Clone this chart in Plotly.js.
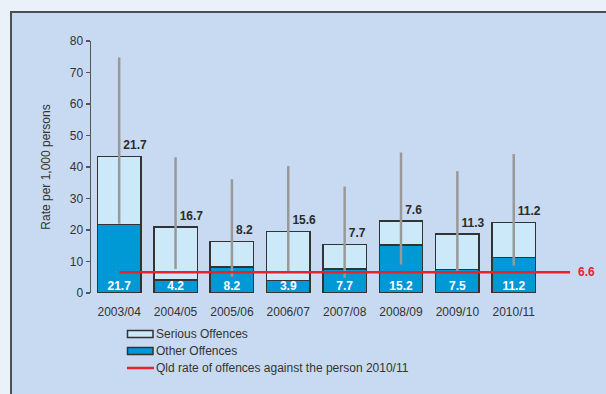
<!DOCTYPE html>
<html>
<head>
<meta charset="utf-8">
<script src="https://cdn.plot.ly/plotly-3.0.1.min.js"></script>
<style>
  html, body { margin: 0; padding: 0; background: #ebf1f9; }
  #box { position: absolute; left: 10px; top: 11px; width: 620px; height: 400px;
         border: 2px solid #4a4f57; background: #c8daf1; }
  #chart { position: absolute; left: 0; top: 0; width: 606px; height: 394px; }
</style>
</head>
<body>
<div id="box"></div>
<div id="chart"></div>
<script>
// ---- data ----
const years   = ['2003/04','2004/05','2005/06','2006/07','2007/08','2008/09','2009/10','2010/11'];
const other   = [21.7, 4.2, 8.2, 3.9, 7.7, 15.2, 7.5, 11.2];   // Other Offences
const serious = [21.7, 16.7, 8.2, 15.6, 7.7, 7.6, 11.3, 11.2]; // Serious Offences
const rangeLow  = [22.0, 7.6, 5.1, 6.8, 4.8, 9.0, 6.8, 8.7];
const rangeHigh = [74.8, 43.1, 36.1, 40.3, 33.8, 44.6, 38.7, 44.1];
const qldRate = 6.6;
const qldLabel = 'Qld rate of offences against the person 2010/11';

const idx = years.map((_, i) => i);
const totals = other.map((v, i) => +(v + serious[i]).toFixed(1));

const FONT = 'Liberation Sans, Arial, sans-serif';

// gray range lines
const rx = [], ry = [];
idx.forEach(i => { rx.push(i, i, null); ry.push(rangeLow[i], rangeHigh[i], null); });

const traces = [
  { type: 'bar', name: 'Other Offences', x: idx, y: other, width: 0.77,
    marker: { color: '#0099d5', line: { color: '#333333', width: 1.5 } },
    hoverinfo: 'skip', showlegend: false },
  { type: 'bar', name: 'Serious Offences', x: idx, y: serious, width: 0.77,
    marker: { color: '#cce9f9', line: { color: '#333333', width: 1.5 } },
    hoverinfo: 'skip', showlegend: false },
  { type: 'scatter', mode: 'lines', x: rx, y: ry, line: { color: '#999999', width: 2.5 },
    showlegend: false, hoverinfo: 'skip' },
  { type: 'scatter', mode: 'lines', name: qldLabel, x: [0, years.length], y: [qldRate, qldRate],
    line: { color: '#e8212b', width: 2.5 }, showlegend: false, hoverinfo: 'skip' },
  { type: 'scatter', mode: 'markers+text', x: idx, y: totals, text: serious.map(v => v.toFixed(1)),
    marker: { size: 5, opacity: 0 },
    textposition: 'top right', textfont: { family: FONT, size: 12, color: '#2b2b2b', weight: 'bold' },
    showlegend: false, hoverinfo: 'skip', cliponaxis: false },
  { type: 'scatter', mode: 'text', x: idx, y: idx.map(() => 0), text: other.map(v => v.toFixed(1)),
    textposition: 'top center', textfont: { family: FONT, size: 12, color: '#ffffff', weight: 'bold' },
    showlegend: false, hoverinfo: 'skip', cliponaxis: false }
];

// custom legend (shapes + annotations in paper coords)
const W = 496, H = 252, L = 91, T = 41;
const px = x => (x - L) / W;
const py = y => (T + H - y) / H;
const legendItems = [
  { label: 'Serious Offences', fill: '#cce9f9', kind: 'box' },
  { label: 'Other Offences', fill: '#0099d5', kind: 'box' },
  { label: qldLabel, fill: '#e8212b', kind: 'line' }
];
const shapes = [], annotations = [];
legendItems.forEach((it, k) => {
  const yc = 334 + k * 17;
  if (it.kind === 'box') {
    shapes.push({ type: 'rect', xref: 'paper', yref: 'paper',
      x0: px(127.5), x1: px(153), y0: py(yc - 3.5), y1: py(yc + 3.5),
      fillcolor: it.fill, line: { color: '#333333', width: 1.5 } });
  } else {
    shapes.push({ type: 'line', xref: 'paper', yref: 'paper',
      x0: px(127), x1: px(154), y0: py(yc), y1: py(yc),
      line: { color: it.fill, width: 2.5 } });
  }
  annotations.push({ xref: 'paper', yref: 'paper', x: px(154), y: py(yc), xanchor: 'left', yanchor: 'middle',
    text: it.label, showarrow: false, font: { family: FONT, size: 12, color: '#333333' } });
});
annotations.push({ x: years.length, y: qldRate, xref: 'x', yref: 'y', xanchor: 'left', yanchor: 'middle',
  xshift: 6, text: '<b>' + qldRate.toFixed(1) + '</b>', showarrow: false,
  font: { family: FONT, size: 12, color: '#e8212b' } });

const layout = {
  width: 606, height: 394,
  margin: { l: L, r: 606 - L - W, t: T, b: 394 - T - H },
  paper_bgcolor: 'rgba(0,0,0,0)', plot_bgcolor: 'rgba(0,0,0,0)',
  barmode: 'stack', showlegend: false,
  font: { family: FONT, size: 12, color: '#333333' },
  xaxis: { range: [-0.5, 8.3], tickmode: 'array', tickvals: idx, ticktext: years,
    showline: false, showgrid: false, zeroline: false, ticks: '', ticklabelstandoff: 10,
    tickfont: { family: FONT, size: 12, color: '#333333' } },
  yaxis: { range: [0, 80], dtick: 10, showline: true, linecolor: '#555555', linewidth: 1.5,
    ticks: 'outside', ticklen: 4, tickcolor: '#555555', tickwidth: 1.5, showgrid: false, zeroline: false,
    tickfont: { family: FONT, size: 12, color: '#333333' },
    title: { text: 'Rate per 1,000 persons', font: { family: FONT, size: 12, color: '#333333' }, standoff: 16 } },
  shapes: shapes, annotations: annotations
};

Plotly.newPlot('chart', traces, layout, { displayModeBar: false, staticPlot: true });
</script>
</body>
</html>
